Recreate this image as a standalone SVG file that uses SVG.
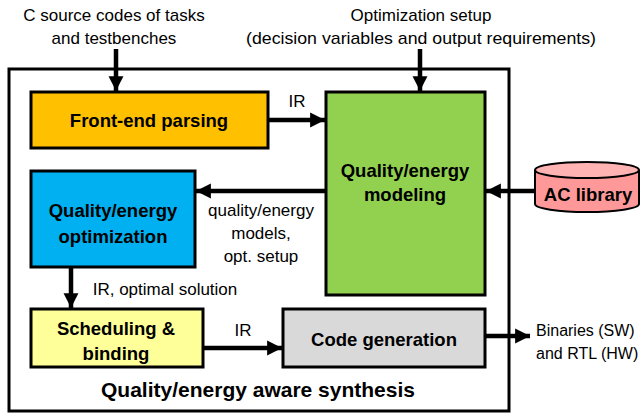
<svg xmlns="http://www.w3.org/2000/svg" width="642" height="417" viewBox="0 0 642 417">
<defs>
<marker id="ah" viewBox="0 0 10 10" refX="10" refY="5" markerWidth="3.3" markerHeight="4.6" orient="auto" markerUnits="strokeWidth">
<path d="M0,0 L10,5 L0,10 Z" fill="#000"/>
</marker>
</defs>
<style>
.box{stroke:#000;stroke-width:3}
.t{font-family:"Liberation Sans",Arial,sans-serif;font-size:17px;fill:#000;text-anchor:middle}
.b{font-family:"Liberation Sans",Arial,sans-serif;font-size:18.5px;font-weight:bold;fill:#000;text-anchor:middle}
.c{stroke:#000;stroke-width:4.5;fill:none;marker-end:url(#ah)}
</style>
<rect width="642" height="417" fill="#fff"/>
<g id="outer">
<rect x="9" y="69" width="500" height="342" fill="none" stroke="#000" stroke-width="3"/>
<text class="b" x="258" y="397" style="font-size:21px">Quality/energy aware synthesis</text>
</g>
<g id="labels-top">
<text class="t" x="114" y="21">C source codes of tasks</text>
<text class="t" x="114" y="44">and testbenches</text>
<text class="t" x="421" y="21">Optimization setup</text>
<text class="t" x="421" y="44" textLength="350" lengthAdjust="spacingAndGlyphs">(decision variables and output requirements)</text>
</g>
<g id="frontend">
<rect class="box" x="31" y="92" width="237" height="56" fill="#FFC000"/>
<text class="b" x="149" y="127">Front-end parsing</text>
</g>
<g id="modeling">
<rect class="box" x="326" y="92" width="159" height="203" fill="#92D050"/>
<text class="b" x="405" y="177">Quality/energy</text>
<text class="b" x="405" y="201">modeling</text>
</g>
<g id="optimization">
<rect class="box" x="31" y="171" width="164" height="96" fill="#00B0F0"/>
<text class="b" x="113" y="217">Quality/energy</text>
<text class="b" x="113" y="243">optimization</text>
</g>
<g id="scheduling">
<rect class="box" x="31" y="309" width="172" height="58" fill="#FFFF99"/>
<text class="b" x="116" y="335">Scheduling &amp;</text>
<text class="b" x="116" y="360">binding</text>
</g>
<g id="codegen">
<rect class="box" x="283" y="309" width="202" height="58" fill="#D9D9D9"/>
<text class="b" x="384" y="346">Code generation</text>
</g>
<g id="aclib">
<path d="M535,170 L535,204 A52,8 0 0 0 639,204 L639,170" fill="#FF9999" stroke="#000" stroke-width="2"/>
<ellipse cx="587" cy="170" rx="52" ry="8" fill="#FFB3B3" stroke="#000" stroke-width="2"/>
<text class="b" x="588" y="201">AC library</text>
</g>
<g id="connectors">
<line class="c" x1="116" y1="49" x2="116" y2="91"/>
<line class="c" x1="420" y1="49" x2="420" y2="91"/>
<line class="c" x1="268" y1="120" x2="325" y2="120"/>
<line class="c" x1="326" y1="191" x2="196" y2="191"/>
<line class="c" x1="535" y1="191" x2="486" y2="191"/>
<line class="c" x1="71" y1="267" x2="71" y2="308"/>
<line class="c" x1="203" y1="348" x2="282" y2="348"/>
<line class="c" x1="485" y1="336" x2="530" y2="336"/>
</g>
<g id="edge-labels">
<text class="t" x="297" y="107">IR</text>
<text class="t" x="261" y="216">quality/energy</text>
<text class="t" x="261" y="239">models,</text>
<text class="t" x="261" y="262">opt. setup</text>
<text class="t" x="165" y="295">IR, optimal solution</text>
<text class="t" x="243" y="336">IR</text>
<text class="t" x="536" y="336" style="text-anchor:start;font-size:16px">Binaries (SW)</text>
<text class="t" x="536" y="359" style="text-anchor:start;font-size:16px">and RTL (HW)</text>
</g>
</svg>
